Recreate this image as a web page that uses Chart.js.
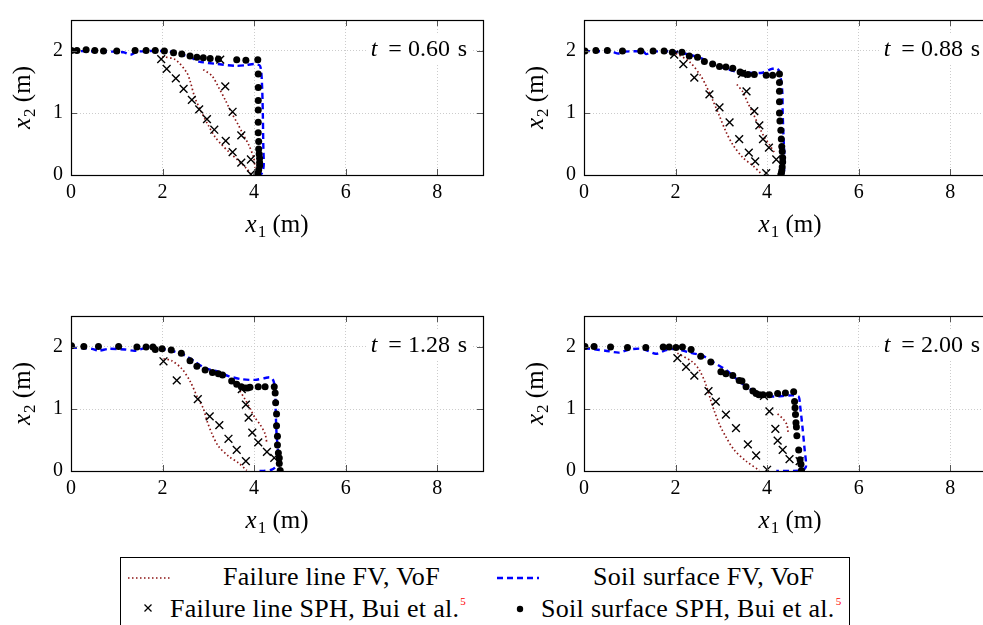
<!DOCTYPE html>
<html><head><meta charset="utf-8">
<script src="https://cdn.jsdelivr.net/npm/chart.js@4.4.1/dist/chart.umd.min.js"></script>
<style>
html,body{margin:0;padding:0;background:#fff;}
#wrap{position:relative;width:983px;height:625px;overflow:hidden;background:#fff;font-family:'Liberation Serif';}
#wrap canvas{position:absolute;}
#legbox{position:absolute;left:120px;top:557px;width:730px;height:100px;border:1px solid #000;box-sizing:border-box;}
.lt{position:absolute;font-family:'Liberation Serif';font-size:26px;letter-spacing:0.3px;line-height:1;white-space:nowrap;color:#000;}
.sup{color:#ff0000;font-size:11px;position:relative;top:-12px;margin-left:1px;letter-spacing:0;}
.mk{position:absolute;}
</style></head><body>
<div id="wrap">
<canvas id="c0" width="500" height="250" style="left:0px;top:0px"></canvas>
<canvas id="c1" width="500" height="250" style="left:513px;top:0px"></canvas>
<canvas id="c2" width="500" height="250" style="left:0px;top:296px"></canvas>
<canvas id="c3" width="500" height="250" style="left:513px;top:296px"></canvas>
<div id="legbox"></div>
<svg class="mk" style="left:128px;top:574px" width="44" height="8"><line x1="0" y1="4" x2="42" y2="4" stroke="#8c1515" stroke-width="1.6" stroke-dasharray="1.5 2.5"/></svg>
<div class="lt" style="left:223px;top:564.2px">Failure line FV, VoF</div>
<svg class="mk" style="left:497px;top:574px" width="44" height="8"><line x1="0" y1="4" x2="42" y2="4" stroke="#0000ff" stroke-width="2.4" stroke-dasharray="6 4"/></svg>
<div class="lt" style="left:593px;top:564.2px">Soil surface FV, VoF</div>
<svg class="mk" style="left:142px;top:602px" width="12" height="12"><line x1="2.5" y1="2.5" x2="9.5" y2="9.5" stroke="#000" stroke-width="1.3"/><line x1="9.5" y1="2.5" x2="2.5" y2="9.5" stroke="#000" stroke-width="1.3"/></svg>
<div class="lt" style="left:170px;top:596.2px">Failure line SPH, Bui et al.<span class="sup">5</span></div>
<svg class="mk" style="left:514px;top:603px" width="12" height="12"><circle cx="6" cy="6" r="3.2" fill="#000"/></svg>
<div class="lt" style="left:541px;top:596.2px">Soil surface SPH, Bui et al.<span class="sup">5</span></div>
</div>
<script>
// ---- tick labels / time labels ----
const xTicks = [0, 2, 4, 6, 8];
const yTicks = [0, 1, 2];
const timeLabels = ['0.60', '0.88', '1.28', '2.00'];

// ---- panel 1 : t = 0.60 s ----
const p1SoilSPH = [[0.01,2.01],[0.13,2.01],[0.33,2.02],[0.52,2.01],[0.71,2.00],[1.00,2.00],[1.40,2.01],[1.64,2.01],[1.84,2.01],[2.04,2.00],[2.24,1.97],[2.42,1.95],[2.60,1.92],[2.75,1.90],[2.89,1.89],[3.04,1.88],[3.22,1.87],[3.62,1.86],[3.82,1.85],[4.08,1.86],[4.09,1.63],[4.09,1.41],[4.09,1.20],[4.09,1.05],[4.09,0.85],[4.09,0.68],[4.10,0.54],[4.10,0.42],[4.11,0.34],[4.12,0.27],[4.12,0.20],[4.12,0.15],[4.10,0.08],[4.08,0.02],[4.06,0.005]];
const p1SoilFV = [[0,2.0],[0.9,1.99],[1.15,1.98],[1.3,1.94],[1.45,1.99],[2.0,2.0],[2.3,1.97],[2.6,1.90],[2.8,1.83],[3.2,1.79],[3.6,1.76],[3.8,1.77],[4.0,1.79],[4.13,1.76],[4.17,1.5],[4.19,1.0],[4.2,0.5],[4.21,0.17],[4.19,0.06],[4.15,0.01],[4.1,0]];
const p1FailSPH = [[1.97,1.87],[2.09,1.71],[2.29,1.56],[2.46,1.39],[2.64,1.21],[2.80,1.06],[2.97,0.90],[3.13,0.73],[3.38,0.55],[3.53,0.37],[3.72,0.20],[3.93,0.01],[3.26,1.86],[3.37,1.43],[3.53,1.02],[3.72,0.64],[3.93,0.25]];
const p1FailFVa = [[1.99,1.91],[2.28,1.86],[2.53,1.65],[2.60,1.52],[2.71,1.24],[2.86,1.00],[3.00,0.80],[3.15,0.61],[3.29,0.49],[3.44,0.38],[3.66,0.23],[3.84,0.10],[3.95,0.0]];
const p1FailFVb = [[2.89,1.70],[3.08,1.60],[3.22,1.42],[3.37,1.21],[3.51,1.00],[3.66,0.80],[3.77,0.64],[3.88,0.49],[3.99,0.28],[4.02,0.12]];

// ---- panel 2 : t = 0.88 s ----
const p2SoilSPH = [[0.02,2.00],[0.26,2.01],[0.51,2.01],[0.84,2.00],[1.24,2.00],[1.51,2.00],[1.75,2.00],[1.93,1.98],[2.14,1.98],[2.30,1.92],[2.48,1.90],[2.63,1.83],[2.81,1.79],[2.96,1.75],[3.10,1.74],[3.25,1.72],[3.41,1.66],[3.47,1.64],[3.58,1.62],[3.72,1.62],[3.98,1.61],[4.12,1.61],[4.27,1.63],[4.27,1.49],[4.27,1.35],[4.27,1.18],[4.27,1.00],[4.28,0.87],[4.30,0.72],[4.31,0.58],[4.32,0.46],[4.33,0.38],[4.34,0.28],[4.34,0.21],[4.33,0.13],[4.32,0.07],[4.31,0.03],[4.30,0.0]];
const p2SoilFV = [[0,2.0],[0.6,1.99],[0.75,1.96],[0.9,1.99],[1.3,1.99],[1.36,1.95],[1.5,1.99],[2.0,1.99],[2.3,1.94],[2.5,1.90],[2.74,1.82],[3.03,1.73],[3.32,1.67],[3.6,1.65],[3.9,1.65],[4.1,1.71],[4.2,1.72],[4.27,1.67],[4.33,1.36],[4.34,1.0],[4.36,0.59],[4.38,0.23],[4.37,0.07],[4.34,0.0]];
const p2FailSPH = [[1.97,1.94],[2.17,1.79],[2.41,1.57],[2.74,1.30],[2.96,1.09],[3.18,0.85],[3.39,0.58],[3.60,0.36],[3.74,0.22],[3.98,0.03],[3.45,1.63],[3.55,1.35],[3.72,1.03],[3.83,0.80],[3.91,0.58],[4.04,0.44],[4.20,0.25]];
const p2FailFVa = [[2.01,1.96],[2.30,1.83],[2.55,1.60],[2.66,1.45],[2.81,1.21],[2.96,0.95],[3.10,0.70],[3.25,0.49],[3.47,0.28],[3.69,0.15],[3.87,0.02]];
const p2FailFVb = [[3.34,1.46],[3.47,1.34],[3.58,1.16],[3.69,1.00],[3.83,0.77],[3.94,0.61],[4.05,0.49],[4.16,0.36]];

// ---- panel 3 : t = 1.28 s ----
const p3SoilSPH = [[0.01,2.02],[0.28,2.01],[0.60,2.01],[1.04,2.01],[1.44,2.00],[1.64,2.00],[1.79,2.00],[1.84,1.96],[1.99,1.97],[2.19,1.95],[2.41,1.90],[2.60,1.78],[2.75,1.69],[2.93,1.63],[3.09,1.59],[3.22,1.57],[3.31,1.55],[3.51,1.45],[3.62,1.40],[3.72,1.36],[3.80,1.34],[3.86,1.34],[3.91,1.35],[4.09,1.36],[4.24,1.36],[4.44,1.36],[4.46,1.26],[4.47,1.10],[4.49,0.92],[4.49,0.73],[4.51,0.56],[4.51,0.42],[4.53,0.29],[4.55,0.21],[4.55,0.12],[4.57,0.01]];
const p3SoilFV = [[0,1.99],[0.31,1.98],[0.46,1.97],[0.6,1.94],[0.82,1.97],[1.18,1.96],[1.4,1.94],[1.7,2.0],[1.9,1.98],[2.2,1.94],[2.5,1.86],[2.71,1.76],[2.93,1.66],[3.22,1.60],[3.44,1.53],[3.73,1.48],[4.02,1.47],[4.24,1.50],[4.35,1.51],[4.42,1.46],[4.46,1.32],[4.47,1.01],[4.49,0.60],[4.53,0.19],[4.49,0.08],[4.38,0.02],[4.17,0.0],[4.1,0.0]];
const p3FailSPH = [[2.02,1.77],[2.31,1.46],[2.77,1.16],[3.03,0.88],[3.24,0.74],[3.44,0.52],[3.62,0.34],[3.82,0.16],[3.73,1.32],[3.82,1.07],[3.88,0.86],[3.96,0.62],[4.09,0.46],[4.28,0.31],[4.44,0.21]];
const p3FailFVa = [[2.02,1.81],[2.20,1.78],[2.42,1.65],[2.60,1.45],[2.78,1.16],[2.89,1.01],[2.97,0.81],[3.08,0.60],[3.22,0.40],[3.44,0.24],[3.66,0.13],[3.84,0.01]];
const p3FailFVb = [[3.69,1.29],[3.80,1.16],[3.91,1.01],[4.02,0.86],[4.13,0.75],[4.24,0.60],[4.28,0.44]];

// ---- panel 4 : t = 2.00 s ----
const p4SoilSPH = [[0.02,2.01],[0.22,2.01],[0.58,2.00],[0.95,1.99],[1.35,1.99],[1.73,2.00],[1.86,2.00],[2.01,1.99],[2.15,2.00],[2.34,1.96],[2.55,1.85],[2.77,1.76],[2.99,1.60],[3.10,1.57],[3.25,1.54],[3.39,1.46],[3.45,1.45],[3.54,1.36],[3.69,1.29],[3.76,1.25],[3.82,1.23],[3.91,1.23],[4.05,1.23],[4.23,1.25],[4.40,1.26],[4.58,1.28],[4.60,1.12],[4.61,1.02],[4.62,0.91],[4.63,0.78],[4.64,0.71],[4.65,0.57],[4.69,0.34],[4.72,0.18],[4.74,0.11],[4.75,0.01]];
const p4SoilFV = [[0,1.98],[0.26,1.96],[0.47,1.94],[0.77,1.91],[0.99,1.96],[1.28,1.97],[1.57,1.89],[1.79,1.95],[2.01,1.97],[2.30,1.91],[2.59,1.86],[2.81,1.76],[3.10,1.63],[3.39,1.45],[3.61,1.33],[3.83,1.24],[4.05,1.20],[4.34,1.21],[4.56,1.22],[4.69,1.20],[4.72,1.06],[4.78,0.65],[4.82,0.34],[4.85,0.08],[4.78,0.01],[4.49,0.0],[4.2,0.0]];
const p4FailSPH = [[2.04,1.82],[2.23,1.68],[2.41,1.54],[2.72,1.29],[2.88,1.12],[3.10,0.91],[3.32,0.69],[3.58,0.43],[3.76,0.25],[4.00,0.02],[3.93,1.21],[4.05,0.96],[4.18,0.68],[4.23,0.49],[4.34,0.34],[4.49,0.19],[4.71,0.16]];
const p4FailFVa = [[2.04,1.90],[2.37,1.76],[2.52,1.63],[2.66,1.40],[2.77,1.14],[2.85,0.96],[2.96,0.75],[3.10,0.55],[3.28,0.34],[3.54,0.16],[3.83,0.01]];
const p4FailFVb = [[4.23,0.92],[4.36,0.83],[4.43,0.75],[4.46,0.62]];

const panels = [
  {soilSPH:p1SoilSPH, soilFV:p1SoilFV, failSPH:p1FailSPH, failA:p1FailFVa, failB:p1FailFVb},
  {soilSPH:p2SoilSPH, soilFV:p2SoilFV, failSPH:p2FailSPH, failA:p2FailFVa, failB:p2FailFVb},
  {soilSPH:p3SoilSPH, soilFV:p3SoilFV, failSPH:p3FailSPH, failA:p3FailFVa, failB:p3FailFVb},
  {soilSPH:p4SoilSPH, soilFV:p4SoilFV, failSPH:p4FailSPH, failA:p4FailFVa, failB:p4FailFVb}
];

const FONT = '"Liberation Serif"';
const RED = '#8c1515', BLUE = '#0000ff';
const toXY = arr => arr.map(p => ({x: p[0], y: p[1]}));

function drawVarLabel(ctx, x, y, sub) {
  ctx.font = 'italic 25px ' + FONT;
  ctx.fillText('x', x, y);
  let w = ctx.measureText('x').width + 1;
  ctx.font = '17px ' + FONT;
  ctx.fillText(sub, x + w, y + 5);
  w += ctx.measureText(sub).width;
  ctx.font = '25px ' + FONT;
  ctx.fillText(' (m)', x + w, y);
}
function varLabelWidth(ctx, sub) {
  ctx.font = 'italic 25px ' + FONT;
  let w = ctx.measureText('x').width + 1;
  ctx.font = '17px ' + FONT;
  w += ctx.measureText(sub).width;
  ctx.font = '25px ' + FONT;
  w += ctx.measureText(' (m)').width;
  return w;
}

const decor = {
  id: 'decor',
  afterDatasetsDraw(chart, args, opts) {
    const {ctx, chartArea: a} = chart;
    ctx.save();
    ctx.fillStyle = '#fff';
    ctx.fillRect(a.right - 117, a.top + 15, 106, 30);
    ctx.fillStyle = '#000';
    ctx.textBaseline = 'alphabetic';
    const by = a.top + 35.5;
    ctx.font = '24px ' + FONT;
    ctx.textAlign = 'right';
    ctx.fillText('s', a.right - 16, by);
    ctx.fillText(opts.t, a.right - 33, by);
    ctx.textAlign = 'center';
    ctx.fillText('=', a.right - 88, by);
    ctx.font = 'italic 24px ' + FONT;
    ctx.fillText('t', a.right - 109, by);
    ctx.restore();
  },
  afterDraw(chart) {
    const {ctx, chartArea: a, scales} = chart;
    const xs = scales.x, ys = scales.y;
    ctx.save();
    ctx.strokeStyle = '#555';
    ctx.lineWidth = 1;
    ctx.beginPath();
    xTicks.forEach(v => {
      if (v === 0) return;
      const px = Math.round(xs.getPixelForValue(v)) + 0.5;
      ctx.moveTo(px, a.bottom); ctx.lineTo(px, a.bottom - 6);
      ctx.moveTo(px, a.top); ctx.lineTo(px, a.top + 6);
    });
    yTicks.forEach(v => {
      if (v === 0) return;
      const py = Math.round(ys.getPixelForValue(v)) + 0.5;
      ctx.moveTo(a.left, py); ctx.lineTo(a.left + 6, py);
      ctx.moveTo(a.right, py); ctx.lineTo(a.right - 6, py);
    });
    ctx.stroke();
    ctx.strokeStyle = '#000';
    ctx.lineWidth = 1.2;
    ctx.strokeRect(Math.round(a.left) + 0.5, Math.round(a.top) + 0.5, Math.round(a.right - a.left), Math.round(a.bottom - a.top));
    ctx.fillStyle = '#000';
    ctx.textBaseline = 'alphabetic';
    ctx.textAlign = 'left';
    const cx = (a.left + a.right) / 2;
    const wx = varLabelWidth(ctx, '1');
    drawVarLabel(ctx, cx - wx / 2, a.bottom + 57, '1');
    const cy = (a.top + a.bottom) / 2;
    ctx.translate(30, cy);
    ctx.rotate(-Math.PI / 2);
    const wy = varLabelWidth(ctx, '2');
    drawVarLabel(ctx, -wy / 2, 0, '2');
    ctx.restore();
  }
};

function scaleOpts(min, max, ticksArr, isX) {
  return {
    type: 'linear', min: min, max: max,
    afterBuildTicks: s => { s.ticks = ticksArr.map(v => ({value: v})); },
    afterFit: s => { if (isX) s.height = 75; else s.width = 71; },
    grid: { color: '#cccccc', lineWidth: 1, drawTicks: false, borderDash: [1, 2] },
    border: { display: false, dash: [1, 2] },
    ticks: { padding: isX ? 6 : 8, color: '#000', autoSkip: false, maxRotation: 0,
             font: { family: FONT, size: 20 } }
  };
}

panels.forEach((p, i) => {
  new Chart(document.getElementById('c' + i), {
    type: 'scatter',
    data: {
      datasets: [
        { data: toXY(p.soilSPH), showLine: false, pointStyle: 'circle', pointRadius: 3.5,
          pointBackgroundColor: '#000', pointBorderColor: '#000', pointBorderWidth: 0 },
        { data: toXY(p.failSPH), showLine: false, pointStyle: 'crossRot', pointRadius: 5.5,
          pointBorderColor: '#000', pointBorderWidth: 1.4 },
        { data: toXY(p.soilFV), showLine: true, borderColor: BLUE, borderWidth: 2.4,
          borderDash: [6, 4], pointRadius: 0, tension: 0.25 },
        { data: toXY(p.failA), showLine: true, borderColor: RED, borderWidth: 1.7,
          borderDash: [1.5, 2.5], pointRadius: 0, tension: 0.3 },
        { data: toXY(p.failB), showLine: true, borderColor: RED, borderWidth: 1.7,
          borderDash: [1.5, 2.5], pointRadius: 0, tension: 0.3 }
      ]
    },
    options: {
      responsive: false, animation: false, devicePixelRatio: 1, events: [],
      layout: { padding: { top: 13, right: 17, left: 0, bottom: 0 } },
      plugins: { legend: { display: false }, tooltip: { enabled: false }, decor: { t: timeLabels[i] } },
      scales: { x: scaleOpts(0, 9, xTicks, true), y: scaleOpts(0, 2.5, yTicks, false) }
    },
    plugins: [decor]
  });
});
</script>
</body></html>
